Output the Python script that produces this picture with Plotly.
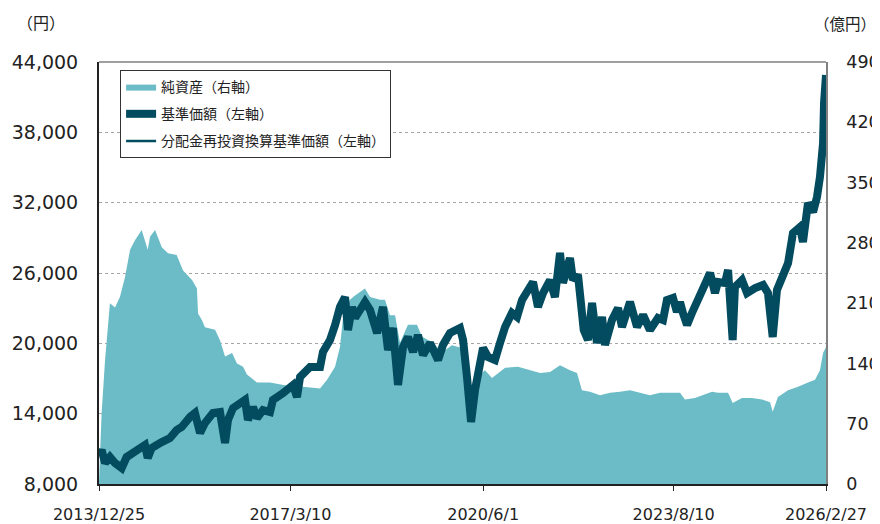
import plotly.graph_objects as go

# 基準価額 (yen)
nav_dates = [
    "2013-12-25", "2014-01-10", "2014-01-31", "2014-03-02", "2014-04-02", "2014-05-13",
    "2014-06-12", "2014-08-21", "2014-10-02", "2014-10-19", "2014-11-12", "2015-01-13",
    "2015-03-04", "2015-04-14", "2015-05-15", "2015-07-05", "2015-08-04", "2015-09-04",
    "2015-10-04", "2015-11-22", "2016-01-04", "2016-02-04", "2016-02-22", "2016-03-24",
    "2016-05-16", "2016-06-05", "2016-06-23", "2016-07-24", "2016-08-17", "2016-09-23",
    "2016-11-05", "2016-11-23", "2017-01-24", "2017-03-26", "2017-04-19", "2017-05-08",
    "2017-07-08", "2017-09-07", "2017-09-25", "2017-11-07", "2017-12-08", "2018-01-07",
    "2018-02-07", "2018-02-25", "2018-03-22", "2018-04-09", "2018-06-09", "2018-07-10",
    "2018-08-22", "2018-09-27", "2018-10-28", "2018-11-27", "2018-12-28", "2019-01-28",
    "2019-02-27", "2019-03-30", "2019-04-29", "2019-05-30", "2019-07-12", "2019-08-30",
    "2019-09-29", "2019-11-11", "2020-01-11", "2020-01-30", "2020-02-23", "2020-03-19",
    "2020-04-12", "2020-04-30", "2020-05-31", "2020-07-01", "2020-08-12", "2020-09-12",
    "2020-10-13", "2020-11-24", "2020-12-25", "2021-01-25", "2021-02-24", "2021-04-02",
    "2021-05-02", "2021-06-02", "2021-07-15", "2021-08-14", "2021-09-14", "2021-10-02",
    "2021-11-14", "2021-12-02", "2022-01-02", "2022-01-26", "2022-02-06", "2022-03-04",
    "2022-03-29", "2022-04-28", "2022-05-29", "2022-06-16", "2022-07-29", "2022-09-04",
    "2022-09-28", "2022-11-16", "2022-12-29", "2023-02-04", "2023-03-18", "2023-05-06",
    "2023-06-06", "2023-06-30", "2023-08-06", "2023-08-30", "2023-09-18", "2023-10-06",
    "2023-10-31", "2023-11-30", "2024-01-06", "2024-02-18", "2024-03-20", "2024-04-19",
    "2024-05-07", "2024-06-19", "2024-07-08", "2024-08-05", "2024-08-19", "2024-10-01",
    "2024-11-01", "2024-12-20", "2025-02-07", "2025-03-09", "2025-04-07", "2025-05-03",
    "2025-06-03", "2025-07-10", "2025-08-09", "2025-09-21", "2025-10-09", "2025-11-09",
    "2025-12-10", "2026-01-03", "2026-01-21", "2026-02-09", "2026-02-15", "2026-02-27",
]
nav_values = [
    10474, 10900, 9790, 10300, 9790, 9365,
    10300, 11070, 11330, 10220, 11070, 11580,
    11920, 12600, 12860, 13720, 14060, 12350,
    13200, 14060, 14140, 11500, 13460, 14480,
    15000, 15170, 13460, 14570, 13630, 14310,
    14140, 15170, 15760, 16450, 15420, 17130,
    17980, 17980, 19260, 20280, 21560, 23100,
    23950, 21140, 23100, 22160, 23530, 22840,
    20880, 23100, 19430, 21310, 16450, 19690,
    20540, 19260, 20710, 19000, 20030, 18580,
    19860, 20880, 21310, 20280, 17130, 13290,
    16020, 17130, 19600, 18830, 18580, 20030,
    21390, 22590, 22250, 23700, 24290, 25230,
    23100, 24290, 25400, 23950, 27710, 25150,
    27280, 25400, 25830, 22840, 21140, 20280,
    23440, 20030, 22250, 19860, 21990, 23010,
    21390, 23530, 21390, 22420, 21140, 22160,
    21990, 23700, 23870, 22670, 23530, 22590,
    21560, 22590, 23700, 24810, 26000, 24290,
    25230, 25150, 26260, 20280, 24810, 25400,
    24290, 24720, 24980, 24290, 20540, 24550,
    25660, 26850, 29410, 29930, 28650, 31970,
    31200, 32490, 34190, 37090, 40500, 42890,
]
# 分配金再投資換算基準価額 (no distributions: same as NAV)
reinv_values = list(nav_values)

# 純資産 (億円)
aum_dates = [
    "2013-12-25", "2014-01-10", "2014-01-31", "2014-03-02", "2014-04-02", "2014-05-02",
    "2014-06-02", "2014-07-03", "2014-08-02", "2014-09-12", "2014-10-19", "2014-11-02",
    "2014-12-03", "2015-01-13", "2015-02-20", "2015-04-14", "2015-05-23", "2015-07-17",
    "2015-08-16", "2015-08-23", "2015-09-16", "2015-10-04", "2015-12-05", "2016-01-04",
    "2016-02-04", "2016-03-18", "2016-04-17", "2016-05-24", "2016-06-17", "2016-08-17",
    "2016-11-05", "2017-01-24", "2017-03-26", "2017-05-26", "2017-09-07", "2017-10-20",
    "2017-12-08", "2018-01-07", "2018-01-26", "2018-03-09", "2018-04-09", "2018-06-09",
    "2018-07-10", "2018-09-09", "2018-10-09", "2018-11-09", "2018-12-10", "2019-01-09",
    "2019-02-27", "2019-04-23", "2019-05-24", "2019-07-24", "2019-09-23", "2019-11-23",
    "2020-01-23", "2020-02-23", "2020-03-19", "2020-04-12", "2020-06-12", "2020-07-25",
    "2020-10-13", "2020-12-31", "2021-03-27", "2021-05-15", "2021-07-15", "2021-09-14",
    "2021-11-14", "2021-12-27", "2022-01-26", "2022-03-16", "2022-05-17", "2022-07-17",
    "2022-09-16", "2022-11-16", "2023-01-16", "2023-03-18", "2023-05-19", "2023-07-19",
    "2023-09-18", "2023-10-18", "2023-12-18", "2024-04-01", "2024-05-07", "2024-07-08",
    "2024-08-05", "2024-10-01", "2024-12-01", "2025-02-01", "2025-03-22", "2025-04-07",
    "2025-05-09", "2025-07-10", "2025-09-09", "2025-11-09", "2025-12-22", "2026-01-21",
    "2026-02-09", "2026-02-27",
]
aum_values = [
    2, 82, 144, 210, 205, 217,
    240, 272, 283, 295, 272, 287,
    295, 275, 268, 266, 248, 237,
    227, 198, 190, 182, 179, 167,
    148, 152, 140, 136, 127, 118,
    118, 115, 113, 113, 111, 121,
    136, 159, 194, 214, 219, 227,
    217, 214, 214, 196, 196, 164,
    185, 185, 171, 165, 153, 161,
    158, 152, 105, 122, 132, 123,
    135, 136, 132, 129, 130, 138,
    132, 129, 109, 107, 103, 106,
    107, 109, 106, 103, 106, 106,
    106, 98, 100, 107, 106, 106,
    94, 100, 100, 98, 95, 84,
    101, 109, 113, 118, 121, 132,
    152, 159,
]

tick_dates = ["2013-12-25", "2017-03-10", "2020-06-01", "2023-08-10", "2026-02-27"]
tick_labels = ["2013/12/25", "2017/3/10", "2020/6/1", "2023/8/10", "2026/2/27"]
left_ticks = [8000, 14000, 20000, 26000, 32000, 38000, 44000]
right_ticks = [0, 70, 140, 210, 280, 350, 420, 490]

AREA = "#6bbcc6"
LINE = "#034b5f"
NUM_FONT = "DejaVu Sans"
JP_FONT = "Noto Sans CJK JP"

fig = go.Figure()
fig.add_trace(go.Scatter(
    x=aum_dates, y=aum_values, name="純資産（右軸）", yaxis="y",
    mode="lines", line=dict(width=0, color=AREA), fill="tozeroy",
    fillcolor=AREA, legendgroup="a",
))
fig.add_trace(go.Scatter(
    x=nav_dates, y=nav_values, name="基準価額（左軸）", yaxis="y2",
    mode="lines", line=dict(width=8, color=LINE), legendgroup="b",
))
fig.add_trace(go.Scatter(
    x=nav_dates, y=reinv_values, name="分配金再投資換算基準価額（左軸）", yaxis="y2",
    mode="lines", line=dict(width=2.5, color=LINE), legendgroup="c",
))

# page body has an 8px default margin: figure is 872x516 so it fits the window
fig.update_layout(
    width=872, height=516,
    margin=dict(l=91, r=54, t=54, b=40, autoexpand=False),
    paper_bgcolor="white", plot_bgcolor="white",
    showlegend=True,
    legend=dict(
        x=0.029, y=0.981, xanchor="left", yanchor="top",
        bgcolor="white", bordercolor="#333333", borderwidth=1,
        font=dict(family=JP_FONT, size=14, color="#222222"),
        tracegroupgap=6, traceorder="grouped",
    ),
    xaxis=dict(
        type="date", range=["2013-12-25", "2026-02-27"],
        tickvals=tick_dates, ticktext=tick_labels,
        ticks="outside", ticklen=5, tickcolor="#222222", tickwidth=1,
        showline=True, linecolor="#222222", linewidth=2,
        showgrid=False, zeroline=False, automargin=False,
        tickfont=dict(family=NUM_FONT, size=16, color="#222222"),
        ticklabelstandoff=10,
    ),
    yaxis=dict(
        side="right", range=[0, 490], tickvals=right_ticks,
        showgrid=False, zeroline=False, automargin=False,
        showline=True, linecolor="#808080", linewidth=1.5,
        ticks="", tickfont=dict(family=NUM_FONT, size=17.5, color="#222222"),
        ticklabelstandoff=15,
    ),
    yaxis2=dict(
        side="left", overlaying="y", range=[8000, 44000], tickvals=left_ticks,
        tickformat=",", showgrid=True, gridcolor="#a6a6a6", griddash="dot", gridwidth=1,
        zeroline=False, showline=True, linecolor="#222222", linewidth=2,
        automargin=False,
        ticks="", tickfont=dict(family=NUM_FONT, size=19, color="#222222"),
        ticklabelstandoff=15,
    ),
    shapes=[dict(type="line", xref="paper", yref="paper", x0=0, x1=1, y0=1, y1=1,
                 line=dict(color="#808080", width=1.5))],
    annotations=[
        dict(text="（円）", xref="paper", yref="paper", x=-0.08, y=1.095,
             xanchor="center", yanchor="middle", showarrow=False,
             font=dict(family=JP_FONT, size=16, color="#222222")),
        dict(text="（億円）", xref="paper", yref="paper", x=1.0715, y=1.093,
             xanchor="right", yanchor="middle", showarrow=False,
             font=dict(family=JP_FONT, size=15.5, color="#222222")),
    ],
)

fig.write_html("out.html")
